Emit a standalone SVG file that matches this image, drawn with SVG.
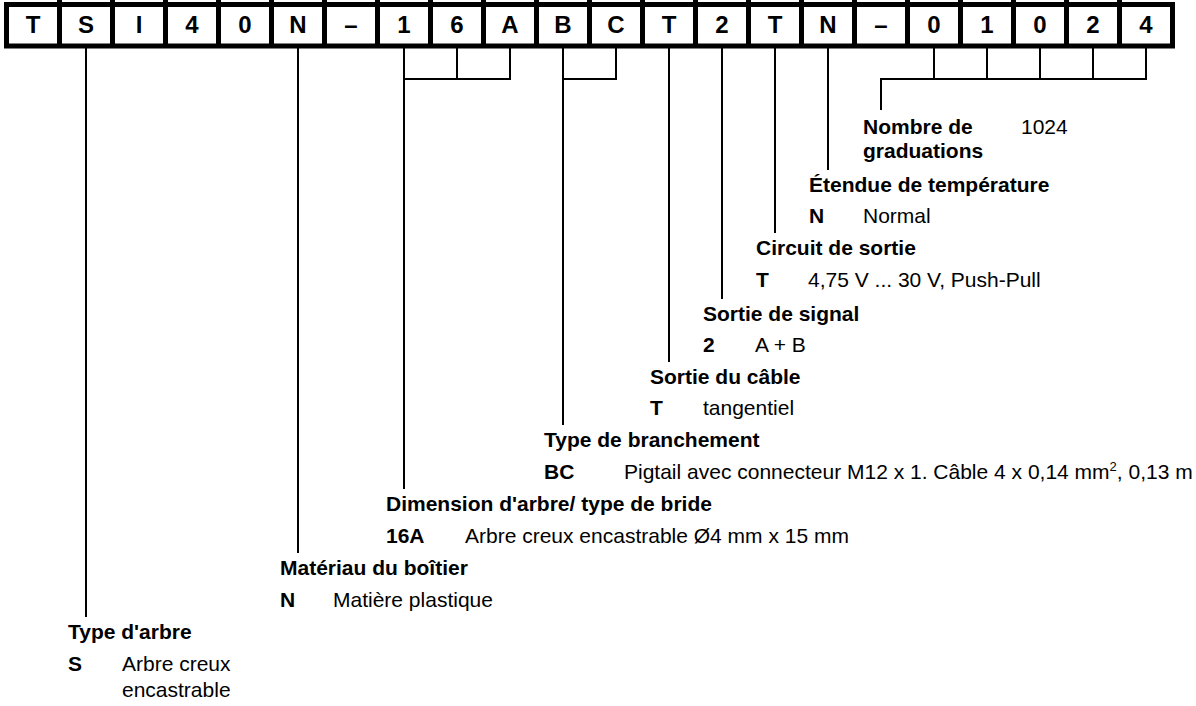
<svg xmlns="http://www.w3.org/2000/svg" width="1196" height="706" viewBox="0 0 1196 706">
<style>
text{font-family:"Liberation Sans",Arial,sans-serif;fill:#000}
.cell{font-size:24px;font-weight:bold;text-anchor:middle}
.h{font-size:21px;font-weight:bold}
.c{font-size:21px;font-weight:bold}
.v{font-size:21px}
.box{fill:none;stroke:#000;stroke-width:5}
.div{stroke:#000;stroke-width:5}
.ln{fill:none;stroke:#000;stroke-width:2}
</style>
<rect width="1196" height="706" fill="#fff"/>
<g id="code-row">
<rect class="box" x="6.5" y="4.5" width="1166" height="41.5"/>
<g class="div">
<line x1="59.5" y1="0" x2="59.5" y2="48"/><line x1="112.5" y1="0" x2="112.5" y2="48"/><line x1="165.5" y1="0" x2="165.5" y2="48"/><line x1="218.5" y1="0" x2="218.5" y2="48"/><line x1="271.5" y1="0" x2="271.5" y2="48"/><line x1="324.5" y1="0" x2="324.5" y2="48"/><line x1="377.5" y1="0" x2="377.5" y2="48"/><line x1="430.5" y1="0" x2="430.5" y2="48"/><line x1="483.5" y1="0" x2="483.5" y2="48"/><line x1="536.5" y1="0" x2="536.5" y2="48"/><line x1="589.5" y1="0" x2="589.5" y2="48"/><line x1="642.5" y1="0" x2="642.5" y2="48"/><line x1="695.5" y1="0" x2="695.5" y2="48"/><line x1="748.5" y1="0" x2="748.5" y2="48"/><line x1="801.5" y1="0" x2="801.5" y2="48"/><line x1="854.5" y1="0" x2="854.5" y2="48"/><line x1="907.5" y1="0" x2="907.5" y2="48"/><line x1="960.5" y1="0" x2="960.5" y2="48"/><line x1="1013.5" y1="0" x2="1013.5" y2="48"/><line x1="1066.5" y1="0" x2="1066.5" y2="48"/><line x1="1119.5" y1="0" x2="1119.5" y2="48"/>
</g>
<text class="cell" x="33" y="33">T</text><text class="cell" x="86" y="33">S</text><text class="cell" x="139" y="33">I</text><text class="cell" x="192" y="33">4</text><text class="cell" x="245" y="33">0</text><text class="cell" x="298" y="33">N</text><text class="cell" x="351" y="33">–</text><text class="cell" x="404" y="33">1</text><text class="cell" x="457" y="33">6</text><text class="cell" x="510" y="33">A</text><text class="cell" x="563" y="33">B</text><text class="cell" x="616" y="33">C</text><text class="cell" x="669" y="33">T</text><text class="cell" x="722" y="33">2</text><text class="cell" x="775" y="33">T</text><text class="cell" x="828" y="33">N</text><text class="cell" x="881" y="33">–</text><text class="cell" x="934" y="33">0</text><text class="cell" x="987" y="33">1</text><text class="cell" x="1040" y="33">0</text><text class="cell" x="1093" y="33">2</text><text class="cell" x="1146" y="33">4</text>
</g>
<g id="connectors" class="ln">
<path d="M86 48V617"/>
<path d="M298 48V553"/>
<path d="M457 48V79M510 48V79H404M404 48V489"/>
<path d="M616 48V79H563M563 48V425"/>
<path d="M669 48V362"/>
<path d="M722 48V299"/>
<path d="M775 48V233"/>
<path d="M828 48V170"/>
<path d="M934 48V79M987 48V79M1040 48V79M1093 48V79M1146 48V79H881V110"/>
</g>
<g id="graduations">
<text class="h" x="863" y="134">Nombre de</text>
<text class="h" x="863" y="158">graduations</text>
<text class="v" x="1021" y="134">1024</text>
</g>
<g id="temperature">
<text class="h" x="809" y="192">Étendue de température</text>
<text class="c" x="809" y="223">N</text>
<text class="v" x="863" y="223">Normal</text>
</g>
<g id="circuit">
<text class="h" x="756" y="255">Circuit de sortie</text>
<text class="c" x="756" y="287">T</text>
<text class="v" x="808" y="287">4,75 V ... 30 V, Push-Pull</text>
</g>
<g id="signal">
<text class="h" x="703" y="321">Sortie de signal</text>
<text class="c" x="703" y="352">2</text>
<text class="v" x="755" y="352">A + B</text>
</g>
<g id="cable">
<text class="h" x="650" y="384">Sortie du câble</text>
<text class="c" x="650" y="415">T</text>
<text class="v" x="703" y="415">tangentiel</text>
</g>
<g id="branchement">
<text class="h" x="544" y="447">Type de branchement</text>
<text class="c" x="544" y="479">BC</text>
<text class="v" x="624" y="479">Pigtail avec connecteur M12 x 1. Câble 4 x 0,14 mm<tspan font-size="13" dy="-8">2</tspan><tspan dy="8">, 0,13 m</tspan></text>
</g>
<g id="dimension">
<text class="h" x="386" y="511">Dimension d'arbre/ type de bride</text>
<text class="c" x="386" y="543">16A</text>
<text class="v" x="465" y="543">Arbre creux encastrable Ø4 mm x 15 mm</text>
</g>
<g id="materiau">
<text class="h" x="280" y="575">Matériau du boîtier</text>
<text class="c" x="280" y="607">N</text>
<text class="v" x="333" y="607">Matière plastique</text>
</g>
<g id="type-arbre">
<text class="h" x="68" y="639">Type d'arbre</text>
<text class="c" x="68" y="671">S</text>
<text class="v" x="122" y="671">Arbre creux</text>
<text class="v" x="122" y="697">encastrable</text>
</g>
</svg>
